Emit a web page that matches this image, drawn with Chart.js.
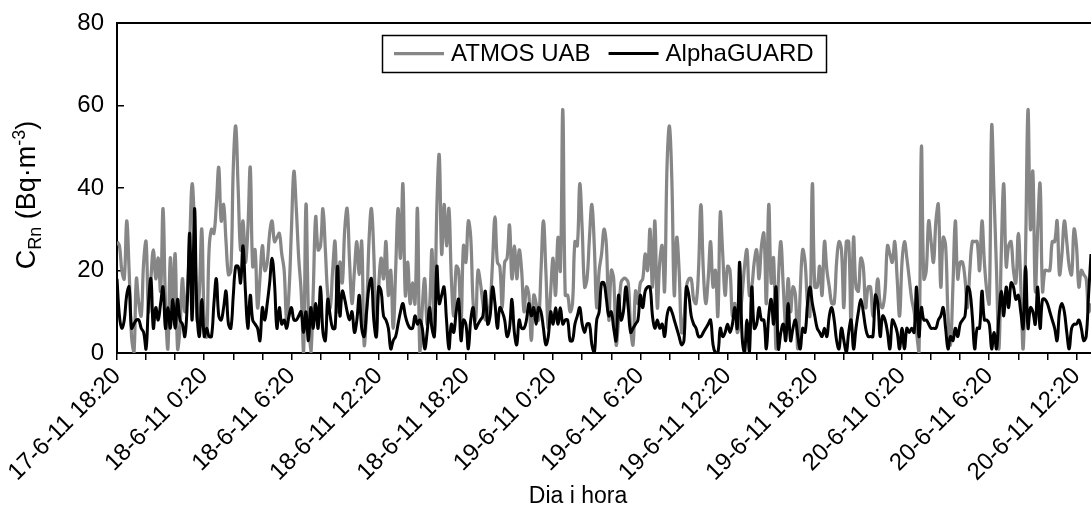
<!DOCTYPE html>
<html>
<head>
<meta charset="utf-8">
<title>CRn</title>
<script src="https://cdn.jsdelivr.net/npm/chart.js@4.4.0/dist/chart.umd.min.js"></script>
<style>
  html, body { margin: 0; padding: 0; background: #fff; }
</style>
</head>
<body>
<canvas id="radonChart" width="1091" height="510"></canvas>
<script>
// readings every 10 min from 17-6-11 18:20, one label every 36 readings (6 h)
var tickLabels = ["17-6-11 18:20", "18-6-11 0:20", "18-6-11 6:20", "18-6-11 12:20",
    "18-6-11 18:20", "19-6-11 0:20", "19-6-11 6:20", "19-6-11 12:20",
    "19-6-11 18:20", "20-6-11 0:20", "20-6-11 6:20", "20-6-11 12:20"];

var atmos = [
    27, 26, 20, 18, 32, 20, 4, 0, 18, 12,
    9, 22, 27, 10, 18, 25, 18, 23, 15, 35,
    12, 1, 23, 12, 24, 1, 6, 18, 10, 15,
    27, 41, 30, 8, 15, 30, 8, 4, 25, 30,
    29, 36, 45, 32, 36, 27, 19, 20, 45, 55,
    40, 25, 32, 22, 30, 45, 21, 25, 11, 18,
    26, 20, 22, 29, 32, 27, 28, 29, 24, 20,
    8, 15, 30, 44, 35, 23, 15, 0, 36, 10,
    0, 15, 33, 25, 26, 35, 25, 14, 11, 20,
    27, 10, 22, 17, 30, 35, 22, 12, 20, 27,
    19, 27, 2, 10, 27, 35, 24, 4, 16, 23,
    18, 27, 14, 20, 6, 20, 35, 23, 41, 14,
    22, 12, 17, 12, 35, 0, 11, 18, 7, 11,
    25, 5, 35, 48, 24, 36, 26, 35, 18, 9,
    21, 20, 7, 26, 22, 32, 28, 12, 8, 20,
    17, 12, 8, 9, 12, 22, 33, 22, 21, 11,
    22, 23, 31, 18, 26, 18, 25, 20, 10, 16,
    14, 3, 14, 12, 8, 20, 32, 20, 6, 15,
    23, 14, 28, 20, 59, 14, 14, 10, 12, 27,
    26, 41, 30, 16, 18, 28, 36, 26, 11, 20,
    24, 30, 26, 8, 20, 18, 2, 8, 17, 18,
    18, 17, 6, 2, 15, 12, 17, 18, 24, 20,
    30, 16, 32, 11, 22, 26, 15, 45, 55, 42,
    14, 28, 20, 5, 8, 16, 18, 18, 13, 12,
    20, 36, 20, 12, 18, 27, 16, 20, 9, 34,
    24, 14, 21, 20, 9, 12, 5, 8, 14, 21,
    25, 14, 16, 22, 25, 18, 26, 29, 12, 36,
    17, 23, 1, 18, 27, 16, 7, 18, 10, 16,
    14, 1, 15, 25, 22, 12, 9, 41, 16, 16,
    21, 14, 27, 20, 16, 12, 12, 22, 27, 25,
    11, 27, 27, 6, 28, 16, 15, 23, 21, 11,
    16, 16, 9, 12, 18, 12, 11, 15, 26, 24,
    22, 27, 18, 9, 22, 27, 23, 18, 13, 10,
    5, 0, 50, 18, 20, 32, 27, 22, 32, 36,
    16, 28, 26, 9, 2, 16, 32, 18, 22, 22,
    18, 11, 20, 27, 27, 27, 20, 32, 22, 15,
    12, 55, 38, 20, 1, 25, 41, 21, 26, 27,
    20, 17, 29, 17, 1, 25, 59, 30, 44, 15,
    30, 41, 15, 20, 20, 20, 27, 27, 32, 19,
    24, 32, 27, 21, 19, 30, 26, 16, 20, 19,
    18, 10, 12
];

var alpha = [
    18, 9, 6, 8, 14, 16, 6, 7, 8, 8,
    6, 5, 1, 12, 18, 6, 11, 8, 12, 16,
    6, 11, 6, 13, 6, 13, 8, 7, 4, 12,
    29, 8, 35, 10, 4, 13, 4, 6, 4, 4,
    12, 18, 9, 8, 11, 15, 7, 6, 14, 21,
    21, 17, 26, 15, 6, 14, 8, 7, 6, 3,
    11, 8, 12, 17, 23, 17, 6, 11, 7, 8,
    6, 9, 11, 8, 8, 9, 10, 5, 10, 3,
    11, 6, 12, 6, 16, 5, 3, 13, 9, 6,
    6, 21, 9, 15, 13, 10, 8, 10, 5, 8,
    14, 6, 4, 10, 16, 18, 8, 4, 16, 15,
    9, 8, 6, 1, 3, 4, 7, 10, 12, 9,
    7, 6, 6, 9, 7, 8, 6, 1, 5, 11,
    6, 4, 21, 12, 14, 16, 8, 1, 7, 5,
    10, 13, 3, 8, 7, 1, 8, 11, 6, 7,
    8, 9, 15, 7, 9, 16, 12, 6, 11, 10,
    8, 4, 6, 13, 5, 2, 8, 6, 6, 8,
    12, 9, 11, 7, 11, 10, 6, 2, 4, 10,
    7, 11, 7, 11, 7, 8, 8, 3, 3, 7,
    9, 11, 7, 5, 7, 7, 2, 0, 8, 10,
    17, 17, 13, 9, 10, 6, 3, 14, 8, 10,
    16, 11, 5, 6, 7, 8, 14, 11, 15, 16,
    16, 9, 6, 8, 6, 7, 4, 9, 11, 10,
    8, 6, 4, 2, 3, 16, 14, 9, 7, 6,
    4, 4, 5, 6, 7, 8, 2, 0, 0, 6,
    4, 5, 7, 5, 7, 11, 6, 22, 4, 0,
    8, 0, 16, 6, 7, 11, 8, 8, 1, 9,
    13, 7, 16, 1, 5, 7, 3, 12, 3, 6,
    8, 4, 1, 6, 5, 12, 16, 12, 9, 6,
    5, 4, 6, 4, 9, 11, 8, 3, 1, 6,
    3, 0, 5, 8, 1, 6, 10, 13, 10, 6,
    4, 4, 4, 14, 12, 4, 9, 8, 5, 1,
    8, 7, 5, 1, 6, 1, 6, 5, 6, 5,
    16, 4, 11, 8, 8, 7, 6, 6, 6, 8,
    9, 11, 6, 1, 4, 3, 6, 4, 7, 8,
    9, 16, 15, 9, 1, 6, 6, 15, 8, 8,
    7, 1, 5, 1, 9, 15, 9, 16, 11, 17,
    16, 13, 14, 10, 6, 21, 6, 11, 10, 7,
    16, 6, 13, 13, 12, 10, 8, 6, 3, 10,
    12, 10, 5, 1, 6, 7, 7, 8, 6, 3,
    4, 14, 24
];

var FONT = '"Liberation Sans", Arial, sans-serif';
Chart.defaults.font.family = FONT;
Chart.defaults.font.size = 24;
Chart.defaults.color = "#000";

function toPoints(arr) {
    return arr.map(function (v, i) { return { x: i, y: v }; });
}

// axis titles (with sub/superscript), top edge of the plot and the framed legend
var extras = {
    id: "extras",
    afterDraw: function (chart) {
        var ctx = chart.ctx;
        var area = chart.chartArea;
        ctx.save();
        ctx.strokeStyle = "#000";
        ctx.lineWidth = 2;
        ctx.beginPath();
        ctx.moveTo(area.left, area.top);
        ctx.lineTo(area.right, area.top);
        ctx.stroke();

        // legend in a box, centred on the plot
        ctx.font = "24px " + FONT;
        var sample = 50, gap = 7, between = 18, margin = 12;
        var items = chart.data.datasets.map(function (ds) {
            return { text: ds.label, color: ds.borderColor, lw: ds.borderWidth, w: ctx.measureText(ds.label).width };
        });
        var boxW = margin * 2 + between * (items.length - 1);
        items.forEach(function (it) { boxW += sample + gap + it.w; });
        var boxL = Math.round((area.left + area.right) / 2 - boxW / 2), boxT = 35, boxH = 37;
        var midY = boxT + boxH / 2;
        ctx.fillStyle = "#fff";
        ctx.fillRect(boxL, boxT, boxW, boxH);
        ctx.lineWidth = 1.5;
        ctx.strokeStyle = "#000";
        ctx.strokeRect(boxL + 0.5, boxT + 0.5, Math.round(boxW), boxH);
        var x = boxL + margin;
        ctx.textBaseline = "middle";
        ctx.textAlign = "left";
        items.forEach(function (it) {
            ctx.strokeStyle = it.color;
            ctx.lineWidth = it.lw;
            ctx.beginPath();
            ctx.moveTo(x, midY);
            ctx.lineTo(x + sample, midY);
            ctx.stroke();
            x += sample + gap;
            ctx.fillStyle = "#000";
            ctx.fillText(it.text, x, midY + 1);
            x += it.w + between;
        });

        ctx.fillStyle = "#000";
        ctx.textBaseline = "alphabetic";
        ctx.textAlign = "center";
        ctx.font = "23px " + FONT;
        ctx.fillText("Dia i hora", 578, 503);

        var parts = [
            { t: "C", f: "27px " + FONT, dy: 0 },
            { t: "Rn", f: "18px " + FONT, dy: 6 },
            { t: " (Bq\u00b7m", f: "27px " + FONT, dy: 0 },
            { t: "-3", f: "18px " + FONT, dy: -10 },
            { t: ")", f: "27px " + FONT, dy: 0 }
        ];
        var total = 0;
        parts.forEach(function (p) { ctx.font = p.f; p.w = ctx.measureText(p.t).width; total += p.w; });
        ctx.translate(35, 195);
        ctx.rotate(-Math.PI / 2);
        ctx.textAlign = "left";
        var tx = -total / 2;
        parts.forEach(function (p) {
            ctx.font = p.f;
            ctx.fillText(p.t, tx, p.dy);
            tx += p.w;
        });
        ctx.restore();
    }
};

var ctx = document.getElementById("radonChart").getContext("2d");

var chart = new Chart(ctx, {
    type: "line",
    data: {
        datasets: [
            {
                label: "ATMOS UAB",
                data: toPoints(atmos),
                borderColor: "#868686",
                backgroundColor: "#868686",
                borderWidth: 3.25,
                pointRadius: 0,
                tension: 0.4,
                order: 1
            },
            {
                label: "AlphaGUARD",
                data: toPoints(alpha),
                borderColor: "#000000",
                backgroundColor: "#000000",
                borderWidth: 3,
                pointRadius: 0,
                tension: 0.4,
                order: 0
            }
        ]
    },
    options: {
        responsive: false,
        animation: false,
        devicePixelRatio: 1,
        layout: { padding: { top: 23, right: 0, left: 0, bottom: 0 } },
        plugins: {
            tooltip: { enabled: false },
            legend: { display: false }
        },
        scales: {
            x: {
                type: "linear",
                min: 0,
                max: atmos.length - 1,
                border: { display: true, color: "#000", width: 2 },
                grid: { display: true, drawOnChartArea: false, drawTicks: true, tickLength: 7, color: "#000", lineWidth: 1.5 },
                ticks: {
                    stepSize: 12,
                    maxTicksLimit: 100,
                    includeBounds: false,
                    autoSkip: false,
                    minRotation: 45,
                    maxRotation: 45,
                    padding: 2,
                    color: "#000",
                    callback: function (v) {
                        return v % 36 === 0 ? tickLabels[v / 36] : "";
                    }
                },
                afterFit: function (scale) {
                    scale.height = 157;
                    scale.paddingLeft = 0;
                    scale.paddingRight = 0;
                }
            },
            y: {
                min: 0,
                max: 80,
                border: { display: true, color: "#000", width: 2 },
                grid: { display: true, drawOnChartArea: false, drawTicks: true, tickLength: -7, color: "#000", lineWidth: 1.5 },
                ticks: { stepSize: 20, padding: 20, color: "#000" },
                afterFit: function (scale) {
                    scale.width = 117;
                    scale.paddingTop = 0;
                    scale.paddingBottom = 0;
                }
            }
        }
    },
    plugins: [extras]
});
</script>
</body>
</html>
